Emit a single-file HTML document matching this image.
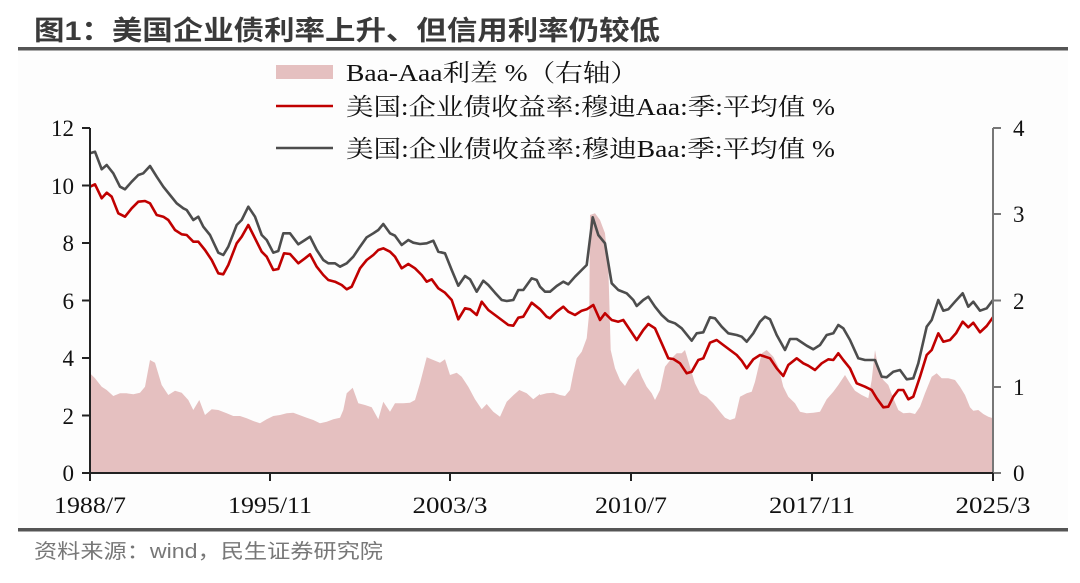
<!DOCTYPE html>
<html><head><meta charset="utf-8"><style>
body{margin:0;width:1080px;height:578px;background:#fff;overflow:hidden;font-family:"Liberation Serif","Noto Serif CJK SC",serif}
</style></head><body>
<svg id="s" width="1080" height="578" xmlns="http://www.w3.org/2000/svg">
<rect x="18" y="50" width="1050" height="478" fill="#fdfdfd"/>
<text x="34" y="40" font-family="'Liberation Sans','Noto Sans CJK SC',sans-serif" font-weight="bold" font-size="27" fill="#3a3a3a" textLength="626" lengthAdjust="spacingAndGlyphs">图1：美国企业债利率上升、但信用利率仍较低</text>
<rect x="18" y="47" width="1050" height="3.5" fill="#555"/>
<rect x="18" y="528" width="1050" height="3.5" fill="#555"/>
<text x="34" y="558" font-family="'Liberation Sans','Noto Sans CJK SC',sans-serif" font-size="20" fill="#777" textLength="349" lengthAdjust="spacingAndGlyphs">资料来源：wind，民生证券研究院</text>
<path id="area" fill="#e5c0c0"/>
<path id="gray" fill="none" stroke="#4d4d4d" stroke-width="2.6" stroke-linejoin="round"/>
<path id="red" fill="none" stroke="#c00000" stroke-width="2.6" stroke-linejoin="round"/>
<g stroke="#222" stroke-width="2" fill="none">
<line x1="90" y1="128" x2="90" y2="474"/>
<line x1="993" y1="128" x2="993" y2="474" stroke="#777"/>
<line x1="89" y1="473" x2="994" y2="473"/>
<line x1="82" y1="128" x2="90" y2="128"/><line x1="82" y1="185.5" x2="90" y2="185.5"/><line x1="82" y1="243" x2="90" y2="243"/><line x1="82" y1="300.5" x2="90" y2="300.5"/><line x1="82" y1="358" x2="90" y2="358"/><line x1="82" y1="415.5" x2="90" y2="415.5"/><line x1="82" y1="473" x2="90" y2="473"/>
<line x1="993" y1="128" x2="1001" y2="128" stroke="#777"/><line x1="993" y1="214" x2="1001" y2="214" stroke="#777"/><line x1="993" y1="300.5" x2="1001" y2="300.5" stroke="#777"/><line x1="993" y1="387" x2="1001" y2="387" stroke="#777"/><line x1="993" y1="473" x2="1001" y2="473" stroke="#777"/>
<line x1="90" y1="473" x2="90" y2="481"/><line x1="270" y1="473" x2="270" y2="481"/><line x1="450" y1="473" x2="450" y2="481"/><line x1="631" y1="473" x2="631" y2="481"/><line x1="812" y1="473" x2="812" y2="481"/><line x1="993" y1="473" x2="993" y2="481"/>
</g>
<g font-size="23" fill="#111" text-anchor="end">
<text x="74" y="136">12</text><text x="74" y="194">10</text><text x="74" y="251">8</text><text x="74" y="309">6</text><text x="74" y="366">4</text><text x="74" y="424">2</text><text x="74" y="481">0</text>
</g>
<g font-size="23" fill="#111">
<text x="1013" y="136">4</text><text x="1013" y="222">3</text><text x="1013" y="309">2</text><text x="1013" y="395">1</text><text x="1013" y="481">0</text>
</g>
<g font-size="23" fill="#111" text-anchor="middle" lengthAdjust="spacingAndGlyphs">
<text x="90" y="513" textLength="72" lengthAdjust="spacingAndGlyphs">1988/7</text><text x="270" y="513" textLength="84" lengthAdjust="spacingAndGlyphs">1995/11</text><text x="450" y="513" textLength="75" lengthAdjust="spacingAndGlyphs">2003/3</text><text x="631" y="513" textLength="72" lengthAdjust="spacingAndGlyphs">2010/7</text><text x="812" y="513" textLength="86" lengthAdjust="spacingAndGlyphs">2017/11</text><text x="993" y="513" textLength="75" lengthAdjust="spacingAndGlyphs">2025/3</text>
</g>
<rect x="276" y="65" width="57" height="14" fill="#e5c0c0"/>
<line x1="276" y1="106" x2="333" y2="106" stroke="#c00000" stroke-width="2.6"/>
<line x1="276" y1="148" x2="333" y2="148" stroke="#4d4d4d" stroke-width="2.6"/>
<g font-size="24" fill="#111">
<text x="346" y="81" textLength="292" lengthAdjust="spacingAndGlyphs">Baa-Aaa利差 %（右轴）</text>
<text x="346" y="115" textLength="489" lengthAdjust="spacingAndGlyphs">美国:企业债收益率:穆迪Aaa:季:平均值 %</text>
<text x="346" y="157" textLength="489" lengthAdjust="spacingAndGlyphs">美国:企业债收益率:穆迪Baa:季:平均值 %</text>
</g>
</svg>
<script>
function cv(a,ox,oy){var r=[];for(var i=0;i<a.length;i+=2)r.push([a[i]/3+ox,a[i+1]/3+oy]);return r;}
var g2=[30,100,45,95,65,148,80,135,100,160,120,200,135,208,155,185,175,165,190,160,210,138,230,170,250,200,270,225,290,250,310,265,320,270,340,300,355,290,370,320,390,345,415,398,430,405,445,380,470,315,485,300,505,260,525,290,545,345,560,360,580,398,595,393,610,340,630,340,655,373,675,360,690,350,710,390,730,420,745,430,765,430,780,440,800,430,820,410,840,380,860,352,880,340,895,330,910,312,930,340,945,347,965,375,985,360,1000,368,1020,372,1040,370,1060,362,1075,395,1095,400,1115,450,1135,497,1155,468,1170,478,1190,515,1210,482,1225,495,1245,518,1265,540,1280,543,1300,540,1315,510,1330,510,1355,475,1370,480];
var r2=[30,200,45,193,65,235,80,218,95,230,115,280,135,290,155,265,175,245,195,243,210,250,230,285,250,290,265,300,285,330,305,343,320,345,340,365,355,365,375,390,395,420,415,460,430,463,445,435,470,370,485,350,505,315,525,355,545,395,560,410,580,450,595,447,612,400,630,402,655,430,675,415,690,403,710,440,730,465,745,480,765,485,785,495,800,508,815,500,840,445,860,420,880,405,895,390,910,385,930,395,945,410,965,445,985,432,1005,445,1025,465,1040,485,1055,478,1075,505,1095,518,1115,540,1135,598,1155,565,1170,568,1190,585,1205,545,1225,570,1245,585,1265,600,1285,615,1300,617,1315,593,1330,590,1355,548];
var a2=[30,760,45,775,65,800,80,810,100,828,120,820,140,820,160,823,180,818,195,800,210,720,225,728,245,795,265,825,285,812,305,818,325,840,340,870,358,840,375,885,395,868,415,870,440,880,460,888,480,888,500,895,520,903,540,910,560,898,580,888,600,885,620,880,640,878,660,886,680,893,700,900,720,910,740,905,760,898,780,893,790,870,800,820,818,803,835,850,855,855,875,862,895,898,910,845,930,875,945,850,970,850,990,848,1005,840,1020,790,1040,712,1060,720,1080,728,1095,718,1110,765,1130,758,1145,770,1165,800,1185,838,1205,868,1220,852,1240,875,1260,890,1280,845,1300,826,1318,810,1340,820,1360,838,1380,822];
var g3=[0,500,15,515,30,515,50,498,70,485,85,493,105,470,125,450,140,435,158,292,175,345,195,370,215,490,235,510,260,520,280,540,290,558,310,540,325,530,345,560,365,585,385,603,405,610,425,625,455,662,470,640,490,637,510,592,525,595,545,620,565,640,590,645,605,650,620,665,640,640,660,605,675,590,690,598,710,645,735,690,750,657,770,657,800,677,820,688,840,675,860,645,880,640,895,615,910,625,930,660,955,715,975,720,1005,720,1025,770,1040,772,1060,755,1080,750,1100,778,1120,775,1135,730,1160,620,1175,600,1195,540,1210,572,1225,568,1245,545,1268,520,1285,560,1300,545,1320,572,1340,565,1358,540];
var r3=[0,568,20,590,30,595,50,575,70,560,85,575,105,585,125,572,140,568,160,555,180,600,195,580,215,600,235,605,250,600,270,630,290,660,310,630,325,612,345,625,365,670,385,715,400,717,420,730,440,760,455,755,475,720,490,715,510,668,530,660,550,675,570,690,590,705,605,722,620,745,640,718,660,705,690,715,710,745,730,768,745,735,770,715,790,730,805,737,825,750,845,730,865,718,880,720,895,700,910,720,930,745,950,790,975,800,995,810,1010,835,1030,862,1045,860,1060,830,1075,810,1090,810,1105,838,1120,830,1140,770,1160,705,1175,690,1195,640,1210,665,1230,660,1248,640,1268,605,1285,622,1300,608,1320,637,1340,618,1360,592];
var a3=[0,825,20,820,40,818,60,825,75,828,90,810,100,760,110,715,125,695,140,655,148,575,150,285,165,280,180,300,195,340,205,440,212,690,225,745,240,780,255,798,265,780,280,760,295,745,305,770,320,800,335,820,345,840,360,810,375,740,395,715,410,700,425,700,435,690,450,740,465,790,480,820,500,830,520,850,540,875,555,893,570,900,585,895,600,830,620,820,635,815,645,785,665,700,680,690,700,710,715,740,730,800,745,830,765,850,780,875,800,880,820,878,840,875,860,838,880,815,895,795,915,765,930,790,945,812,965,825,985,835,995,780,1005,690,1018,760,1030,780,1045,795,1060,835,1075,870,1090,880,1110,878,1125,882,1140,860,1155,820,1175,770,1190,760,1205,775,1225,775,1245,780,1260,800,1275,825,1290,862,1300,872,1315,870,1330,882,1345,890,1358,895];
function d(p){return p.map(function(q,i){return (i?'L':'M')+q[0].toFixed(1)+' '+q[1].toFixed(1)}).join('');}
var G=cv(g2,80,120).concat(cv(g3,540,120)),R=cv(r2,80,120).concat(cv(r3,540,120)),A=cv(a2,80,120).concat(cv(a3,540,120));
G[0][0]=90;R[0][0]=90;A[0][0]=90;A[A.length-1][0]=993;G[G.length-1][0]=993;R[R.length-1][0]=993;
document.getElementById('gray').setAttribute('d',d(G));
document.getElementById('red').setAttribute('d',d(R));
document.getElementById('area').setAttribute('d',d(A)+'L993 473L90 473Z');
</script>
</body></html>
